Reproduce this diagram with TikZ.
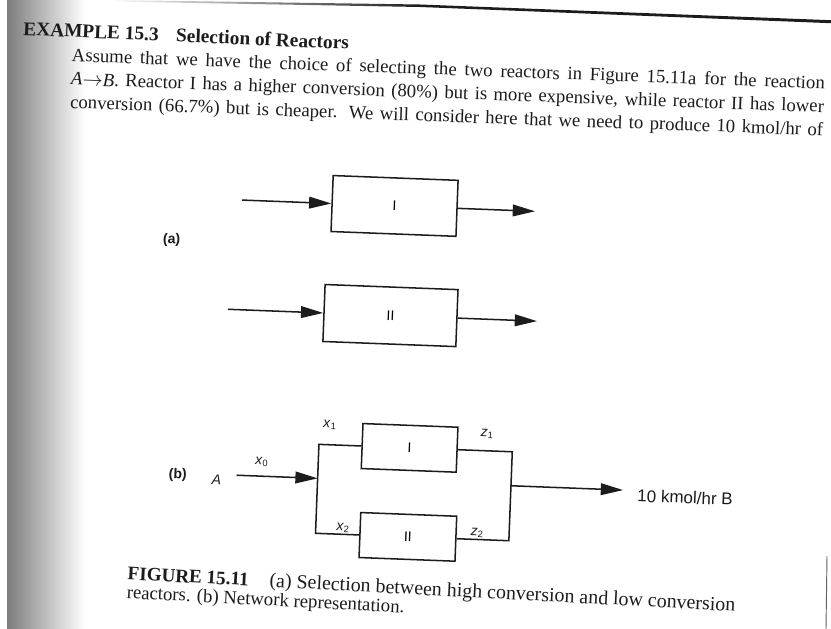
\documentclass[tikz,border=0pt]{standalone}
\usepackage{fontspec}
\setmainfont{Liberation Serif}
\setsansfont{Liberation Sans}
\usetikzlibrary{arrows.meta, positioning}
\definecolor{ink}{RGB}{28,28,28}
\definecolor{shadow}{RGB}{125,125,125}
\newcommand{\bodyfont}{\fontsize{16}{20}\selectfont}
\newcommand{\diagfont}{\sffamily\fontsize{12}{14}\selectfont}
\newcommand{\fullline}[1]{\makebox[22.6cm][s]{#1}}

\begin{document}
\begin{tikzpicture}[x=0.03cm, y=-0.03cm,
  reactor/.style={
    rectangle, draw=ink, line width=1.3pt,
    font=\diagfont, inner sep=0pt
  },
  arr/.style={-{Triangle[length=19pt,width=10pt]}, line width=1.3pt, draw=ink},
  pipe/.style={line width=1.3pt, draw=ink},
  lbl/.style={font=\diagfont, text=ink, inner sep=0pt},
  para/.style={anchor=north west, inner sep=0pt, text=ink}
]
  \useasboundingbox (0,0) rectangle (831,629);

  % scan: binding shadow, top rule, page edge
  \shade[left color=shadow, middle color=shadow!30, right color=white] (7,0) rectangle (85,629);
  \shade[left color=white, right color=ink] (110,0) -- (420,4.5) -- (420,7) -- (110,1.5) -- cycle;
  \fill[ink] (420,4.5) -- (831,20.2) -- (831,23.2) -- (420,7) -- cycle;
  \draw[ink!70, line width=0.8pt] (827,556) -- (826,629);

  % heading and text
  \node[anchor=base west, inner sep=0pt, text=ink, rotate=-2.5,
        font=\fontsize{16.5}{20}\selectfont\bfseries] (head) at (23,35)
    {EXAMPLE 15.3\hspace{15pt}Selection of Reactors};
  \node[para, rotate=-2.1, font=\bodyfont, align=left] (body) at (72,48)
    {\fullline{Assume that we have the choice of selecting the two reactors in Figure 15.11a for the reaction}\\
     \fullline{\textit{A}$\rightarrow$\textit{B}. Reactor I has a higher conversion (80\%) but is more expensive, while reactor II has lower}\\
     \fullline{conversion (66.7\%) but is cheaper. We will consider here that we need to produce 10 kmol/hr of}};

  \begin{scope}[rotate around={-2.2:(415,315)}, transform shape]
    % (a) the two reactors
    \node[reactor, minimum width=3.75cm, minimum height=1.68cm] (aI) at (390.4,206.8) {I};
    \node[reactor, minimum width=3.99cm, minimum height=1.71cm] (aII) at (390.5,316.5) {II};
    \coordinate (aIin) at (237.6,206.8);
    \coordinate (aIout) at (531,206.8);
    \coordinate (aIIin) at (227.8,316.5);
    \coordinate (aIIout) at (537.2,316.5);
    \draw[arr] (aIin) -- (aI.west);
    \draw[arr] (aI.east) -- (aIout);
    \draw[arr] (aIIin) -- (aII.west);
    \draw[arr] (aII.east) -- (aIIout);
    \node[lbl, font=\diagfont\bfseries] (la) at (169,249.3) {(a)};

    % (b) network
    \node[reactor, minimum width=2.85cm, minimum height=1.35cm] (bI) at (414.7,448) {I};
    \node[reactor, minimum width=2.88cm, minimum height=1.35cm] (bII) at (416.4,537) {II};
    \coordinate (split) at (324,482);
    \coordinate (mix) at (517.5,482);
    \coordinate (feed) at (243,482);
    \coordinate (prod) at (629.7,482);
    \draw[pipe] (bI.west) -| (split) |- (bII.west);
    \draw[pipe] (bI.east) -| (mix) |- (bII.east);
    \draw[arr] (feed) -- (split);
    \draw[arr] (mix) -- (prod);

    \node[lbl, font=\diagfont\bfseries] (lb) at (184,484) {(b)};
    \node[lbl] (A) at (223,487.6) {\textit{A}};
    \node[lbl] (x0) at (267.6,467.9) {\textit{x}\textsubscript{0}};
    \node[lbl] (x1) at (334.2,428.3) {\textit{x}\textsubscript{1}};
    \node[lbl] (z1) at (491.6,431.2) {\textit{z}\textsubscript{1}};
    \node[lbl] (x2) at (351.2,530.8) {\textit{x}\textsubscript{2}};
    \node[lbl] (z2) at (485.4,530.6) {\textit{z}\textsubscript{2}};
    \node[lbl, anchor=west, font=\sffamily\fontsize{14.5}{16}\selectfont] (out) at (644,487) {10 kmol/hr B};
  \end{scope}

  % caption
  \node[para, rotate=-3.0, align=left, font=\fontsize{17}{16}\selectfont] (cap) at (128,565.5)
    {{\fontsize{16.3}{16}\selectfont\bfseries FIGURE 15.11}\hspace{18pt}(a) Selection between high conversion and low conversion\\
     {\fontsize{16}{16}\selectfont reactors. (b) Network representation.}};
\end{tikzpicture}
\end{document}
